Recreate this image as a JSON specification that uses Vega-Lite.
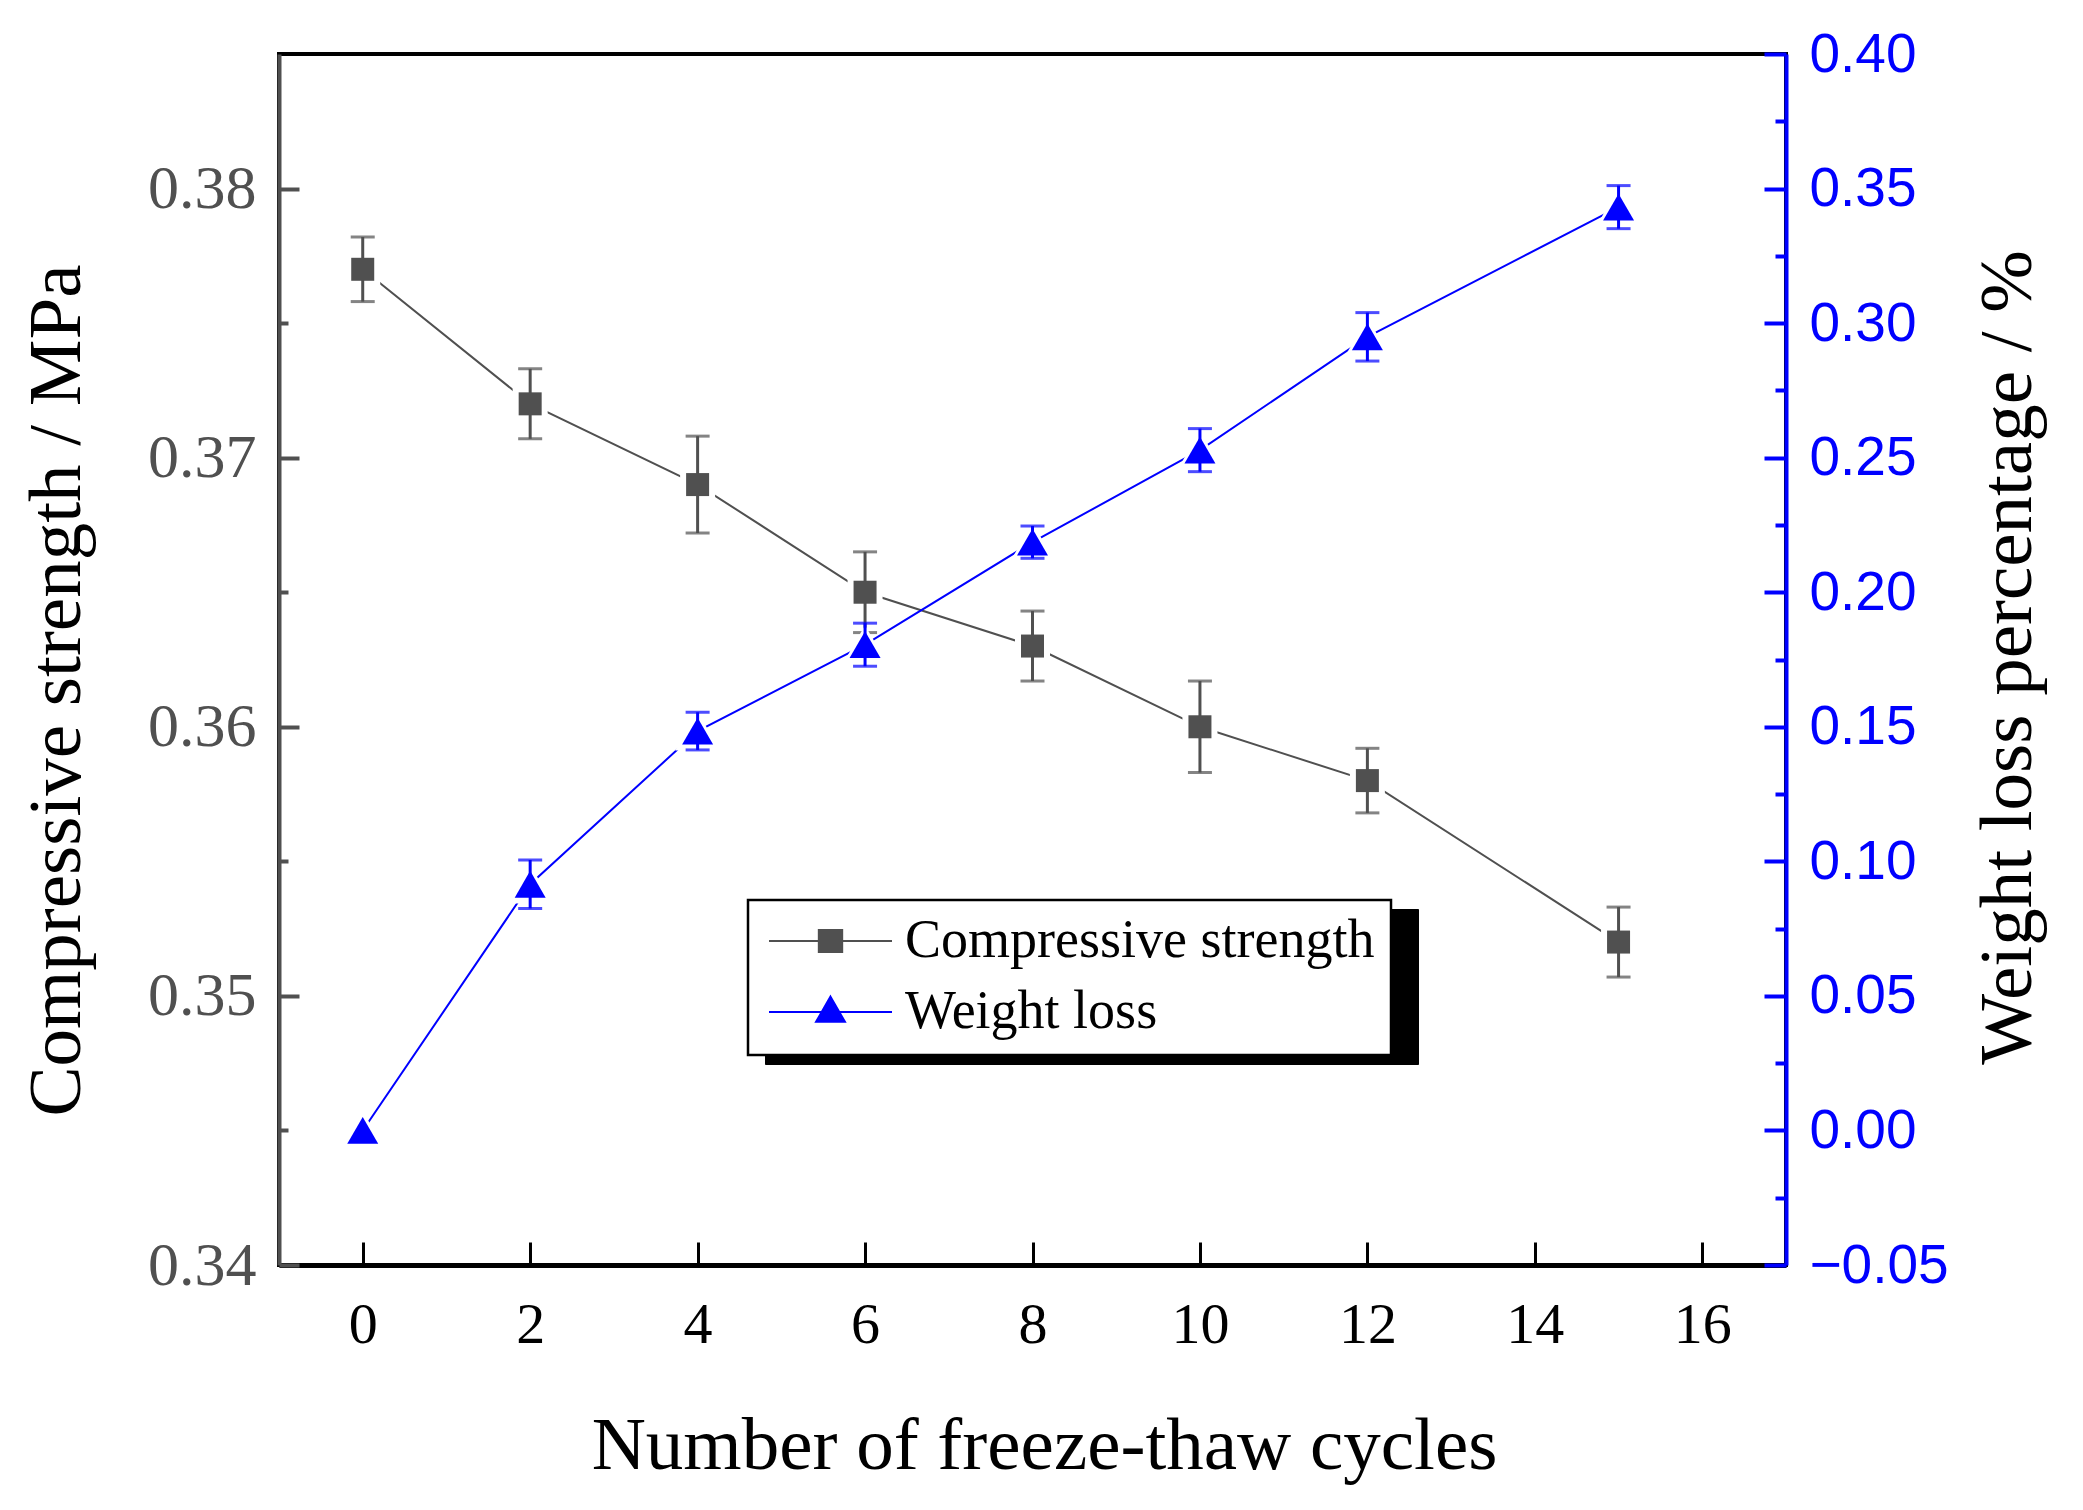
{
  "$schema": "https://vega.github.io/schema/vega-lite/v6.json",
  "autosize": {"type": "none"},
  "padding": {"left": 279, "top": 54, "right": 297, "bottom": 245},
  "width": 1507,
  "height": 1211,
  "background": "white",
  "datasets": {
    "freeze": [
      {"cycles": 0, "strength": 0.377, "strength_err": 0.0012, "loss": 0.0, "loss_err": 0},
      {"cycles": 2, "strength": 0.372, "strength_err": 0.0013, "loss": 0.0915, "loss_err": 0.009},
      {"cycles": 4, "strength": 0.369, "strength_err": 0.0018, "loss": 0.1484, "loss_err": 0.007},
      {"cycles": 6, "strength": 0.365, "strength_err": 0.0015, "loss": 0.1805, "loss_err": 0.008},
      {"cycles": 8, "strength": 0.363, "strength_err": 0.0013, "loss": 0.2186, "loss_err": 0.006},
      {"cycles": 10, "strength": 0.36, "strength_err": 0.0017, "loss": 0.2528, "loss_err": 0.008},
      {"cycles": 12, "strength": 0.358, "strength_err": 0.0012, "loss": 0.2949, "loss_err": 0.009},
      {"cycles": 15, "strength": 0.352, "strength_err": 0.0013, "loss": 0.3431, "loss_err": 0.008}
    ],
    "legend": [
      {"series": "Compressive strength", "key": "Compressive strength"},
      {"series": "Weight loss", "key": "Weight loss"}
    ]
  },
  "data": {"name": "freeze"},
  "layer": [
    {
      "encoding": {
        "x": {
          "field": "cycles",
          "type": "quantitative",
          "scale": {"domain": [-1, 17], "nice": false, "zero": false},
          "axis": {
            "values": [0, 2, 4, 6, 8, 10, 12, 14, 16],
            "grid": false,
            "tickSize": -23,
            "tickWidth": 3,
            "tickColor": "black",
            "domainColor": "black",
            "domainWidth": 5,
            "labelFont": "Liberation Serif",
            "labelFontSize": 58,
            "labelColor": "black",
            "labelPadding": 54,
            "labelFlush": false,
            "title": "Number of freeze-thaw cycles",
            "titleFont": "Liberation Serif",
            "titleFontSize": 75,
            "titleFontWeight": "normal",
            "titleColor": "black",
            "titleX": 765,
            "titleY": 180,
            "titleAlign": "center",
            "titleBaseline": "middle"
          }
        },
        "y": {
          "field": "strength",
          "type": "quantitative",
          "scale": {"domain": [0.34, 0.385], "nice": false, "zero": false},
          "axis": {
            "orient": "left",
            "values": [0.34, 0.345, 0.35, 0.355, 0.36, 0.365, 0.37, 0.375, 0.38],
            "format": ".2f",
            "labelExpr": "abs(datum.value * 100 - round(datum.value * 100)) < 0.1 ? datum.label : ''",
            "labelOverlap": false,
            "grid": false,
            "tickSize": {"condition": {"test": "abs(datum.value * 100 - round(datum.value * 100)) < 0.1", "value": -20}, "value": -9},
            "tickWidth": 4,
            "tickColor": "#505050",
            "domainColor": "#505050",
            "domainWidth": 4,
            "labelFont": "Liberation Serif",
            "labelFontSize": 62,
            "labelColor": "#505050",
            "labelPadding": 43,
            "title": "Compressive strength / MPa",
            "titleFont": "Liberation Serif",
            "titleFontSize": 75,
            "titleFontWeight": "normal",
            "titleColor": "black",
            "titleAngle": 270,
            "titleX": -223,
            "titleY": 636,
            "titleAlign": "center",
            "titleBaseline": "middle"
          }
        }
      },
      "layer": [
        {"mark": {"type": "line", "color": "#505050", "strokeWidth": 2}},
        {"mark": {"type": "point", "shape": "square", "filled": true, "color": "white", "opacity": 1, "size": 1225}},
        {
          "mark": {"type": "errorbar", "ticks": true, "size": 24, "thickness": 3, "color": "#505050"},
          "encoding": {"yError": {"field": "strength_err"}}
        },
        {"mark": {"type": "point", "shape": "square", "filled": true, "color": "#505050", "opacity": 1, "size": 529}}
      ]
    },
    {
      "encoding": {
        "x": {
          "field": "cycles",
          "type": "quantitative",
          "scale": {"domain": [-1, 17], "nice": false, "zero": false},
          "axis": {
            "values": [0, 2, 4, 6, 8, 10, 12, 14, 16],
            "grid": false,
            "tickSize": -23,
            "tickWidth": 3,
            "tickColor": "black",
            "domainColor": "black",
            "domainWidth": 5,
            "labelFont": "Liberation Serif",
            "labelFontSize": 58,
            "labelColor": "black",
            "labelPadding": 54,
            "labelFlush": false,
            "title": "Number of freeze-thaw cycles",
            "titleFont": "Liberation Serif",
            "titleFontSize": 75,
            "titleFontWeight": "normal",
            "titleColor": "black",
            "titleX": 765,
            "titleY": 180,
            "titleAlign": "center",
            "titleBaseline": "middle"
          }
        },
        "y": {
          "field": "loss",
          "type": "quantitative",
          "scale": {"domain": [-0.05, 0.4], "nice": false, "zero": false},
          "axis": {
            "orient": "right",
            "values": [-0.05, -0.025, 0, 0.025, 0.05, 0.075, 0.1, 0.125, 0.15, 0.175, 0.2, 0.225, 0.25, 0.275, 0.3, 0.325, 0.35, 0.375, 0.4],
            "format": ".2f",
            "labelExpr": "abs(datum.value * 20 - round(datum.value * 20)) < 0.1 ? datum.label : ''",
            "labelOverlap": false,
            "grid": false,
            "tickSize": {"condition": {"test": "abs(datum.value * 20 - round(datum.value * 20)) < 0.1", "value": -22}, "value": -11},
            "tickWidth": 4,
            "tickColor": "#0000ff",
            "domainColor": "#0000ff",
            "domainWidth": 4,
            "labelFont": "Liberation Sans",
            "labelFontSize": 55,
            "labelColor": "#0000ff",
            "labelPadding": 45,
            "title": "Weight loss percentage / %",
            "titleFont": "Liberation Serif",
            "titleFontSize": 75,
            "titleFontWeight": "normal",
            "titleColor": "black",
            "titleAngle": 270,
            "titleX": 221,
            "titleY": 603,
            "titleAlign": "center",
            "titleBaseline": "middle"
          }
        }
      },
      "layer": [
        {"mark": {"type": "line", "color": "#0000ff", "strokeWidth": 2}},
        {"mark": {"type": "point", "shape": "triangle-up", "filled": true, "color": "white", "opacity": 1, "size": 2000}},
        {
          "transform": [{"filter": "datum.loss_err > 0"}],
          "mark": {"type": "errorbar", "ticks": true, "size": 24, "thickness": 3, "color": "#0000ff"},
          "encoding": {"yError": {"field": "loss_err"}}
        },
        {"mark": {"type": "point", "shape": "triangle-up", "filled": true, "color": "#0000ff", "opacity": 1, "size": 961}}
      ]
    },
    {
      "data": {"name": "legend"},
      "mark": {"type": "point", "filled": true, "opacity": 0, "strokeWidth": 2},
      "encoding": {
        "fill": {
          "field": "series",
          "type": "nominal",
          "scale": {"domain": ["Compressive strength", "Weight loss"], "range": ["#505050", "#0000ff"]},
          "legend": {
            "title": null, "orient": "none", "legendX": 469, "legendY": 846,
            "fillColor": "white", "strokeColor": "black", "padding": 16,
            "clipHeight": 50, "rowPadding": 17, "symbolSize": 15129, "symbolStrokeWidth": 2,
            "symbolOffset": 4, "symbolOpacity": 1, "labelOffset": 12,
            "labelFont": "Liberation Serif", "labelFontSize": 54, "labelColor": "black", "labelLimit": 2000, "zindex": 1,
            "encode": {"legend": {"update": {"strokeWidth": {"value": 2.5}}}}
          }
        },
        "stroke": {
          "field": "series",
          "type": "nominal",
          "scale": {"domain": ["Compressive strength", "Weight loss"], "range": ["#505050", "#0000ff"]},
          "legend": {
            "title": null, "orient": "none", "legendX": 469, "legendY": 846,
            "fillColor": "white", "strokeColor": "black", "padding": 16,
            "clipHeight": 50, "rowPadding": 17, "symbolSize": 15129, "symbolStrokeWidth": 2,
            "symbolOffset": 4, "symbolOpacity": 1, "labelOffset": 12,
            "labelFont": "Liberation Serif", "labelFontSize": 54, "labelColor": "black", "labelLimit": 2000, "zindex": 1,
            "encode": {"legend": {"update": {"strokeWidth": {"value": 2.5}}}}
          }
        },
        "shape": {
          "field": "series",
          "type": "nominal",
          "scale": {
            "domain": ["Compressive strength", "Weight loss"],
            "range": ["M-1,0H1M-0.19,-0.18H0.19V0.18H-0.19Z", "M-1,0H1M0,-0.25L0.235,0.16L-0.235,0.16Z"]
          },
          "legend": {
            "title": null, "orient": "none", "legendX": 469, "legendY": 846,
            "fillColor": "white", "strokeColor": "black", "padding": 16,
            "clipHeight": 50, "rowPadding": 17, "symbolSize": 15129, "symbolStrokeWidth": 2,
            "symbolOffset": 4, "symbolOpacity": 1, "labelOffset": 12,
            "labelFont": "Liberation Serif", "labelFontSize": 54, "labelColor": "black", "labelLimit": 2000, "zindex": 1,
            "encode": {"legend": {"update": {"strokeWidth": {"value": 2.5}}}}
          }
        },
        "strokeDash": {
          "field": "key",
          "type": "nominal",
          "legend": {
            "title": null, "orient": "none", "legendX": 486, "legendY": 855,
            "fillColor": "black", "strokeColor": "black", "padding": 16,
            "clipHeight": 50, "rowPadding": 17, "symbolSize": 0, "symbolStrokeWidth": 2,
            "symbolOpacity": 0, "labelOffset": 567, "labelExpr": "''",
            "labelFont": "Liberation Serif", "labelFontSize": 54, "labelColor": "black", "labelLimit": 2000, "zindex": 0,
            "encode": {"legend": {"update": {"strokeWidth": {"value": 2.5}}}}
          }
        }
      }
    }
  ],
  "resolve": {"scale": {"y": "independent"}},
  "config": {
    "view": {"stroke": "black", "strokeWidth": 4},
    "axis": {"grid": false}
  }
}
